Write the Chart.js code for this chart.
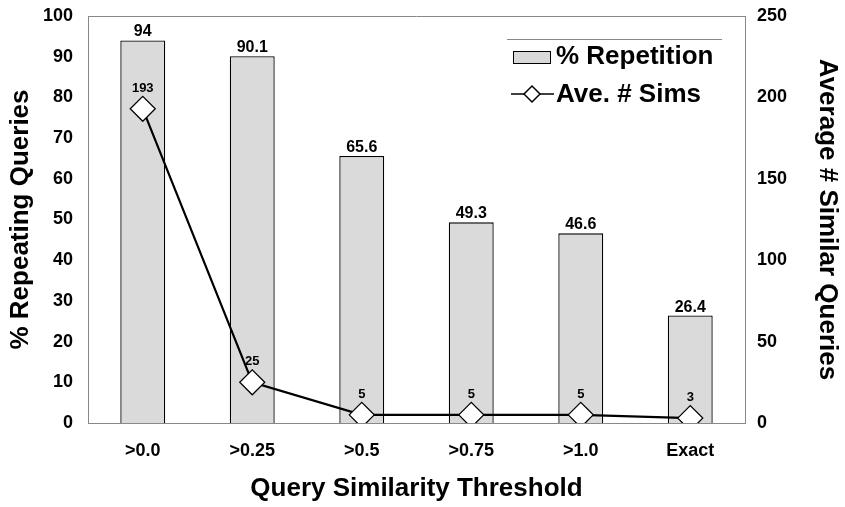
<!DOCTYPE html>
<html><head><meta charset="utf-8">
<script src="https://cdn.jsdelivr.net/npm/chart.js@4/dist/chart.umd.min.js"></script>
<style>html,body{margin:0;padding:0;background:#fff}#wrap{width:845px;height:507px}</style>
</head><body><div id="wrap"><canvas id="c" width="845" height="507"></canvas></div>
<script>
const categories = [">0.0", ">0.25", ">0.5", ">0.75", ">1.0", "Exact"];
const repetition = [94, 90.1, 65.6, 49.3, 46.6, 26.4];
const aveSims = [193, 25, 5, 5, 5, 3];
const leftTicks = [0, 10, 20, 30, 40, 50, 60, 70, 80, 90, 100];
const rightTicks = [0, 50, 100, 150, 200, 250];

const F = "'Liberation Sans', Arial, sans-serif";

const labelPlugin = {
  id: 'labels',
  afterDatasetsDraw(chart) {
    const ctx = chart.ctx;
    ctx.save();
    ctx.fillStyle = '#000';
    ctx.textAlign = 'center';
    ctx.textBaseline = 'alphabetic';
    ctx.font = "bold 16px " + F;
    chart.getDatasetMeta(1).data.forEach((el, i) => {
      ctx.fillText(String(repetition[i]), el.x, el.y - 4);
    });
    ctx.font = "bold 13px " + F;
    chart.getDatasetMeta(0).data.forEach((el, i) => {
      ctx.fillText(String(aveSims[i]), el.x, el.y - 17);
    });
    // legend
    const a = chart.chartArea;
    ctx.strokeStyle = '#888';
    ctx.lineWidth = 1;
    ctx.beginPath(); ctx.moveTo(507, 39.5); ctx.lineTo(722, 39.5); ctx.stroke();
    ctx.fillStyle = '#d9d9d9';
    ctx.fillRect(513, 51, 37, 12);
    ctx.strokeStyle = '#000';
    ctx.strokeRect(513.5, 51.5, 37, 12);
    ctx.fillStyle = '#000';
    ctx.textAlign = 'left';
    ctx.textBaseline = 'middle';
    ctx.font = "bold 26px " + F;
    ctx.fillText(chart.data.datasets[1].label, 556, 57);
    ctx.fillText(chart.data.datasets[0].label, 556, 95);
    ctx.lineWidth = 1.5;
    ctx.beginPath(); ctx.moveTo(511, 94); ctx.lineTo(554, 94); ctx.stroke();
    ctx.fillStyle = '#fff';
    ctx.beginPath(); ctx.moveTo(532, 86); ctx.lineTo(540, 94); ctx.lineTo(532, 102); ctx.lineTo(524, 94); ctx.closePath();
    ctx.fill(); ctx.stroke();
    // top border
    ctx.strokeStyle = '#888'; ctx.lineWidth = 1;
    ctx.beginPath(); ctx.moveTo(a.left, a.top + 0.5); ctx.lineTo(a.right, a.top + 0.5); ctx.stroke();
    ctx.restore();
  }
};

new Chart(document.getElementById('c'), {
  data: {
    labels: categories,
    datasets: [
      {
        type: 'line', label: 'Ave. # Sims', data: aveSims, yAxisID: 'y2',
        borderColor: '#000', borderWidth: 2.2, tension: 0,
        pointStyle: 'rectRot', pointRadius: 12.5, pointBackgroundColor: '#fff',
        pointBorderColor: '#000', pointBorderWidth: 1.3, order: 0
      },
      {
        type: 'bar', label: '% Repetition', data: repetition, yAxisID: 'y',
        backgroundColor: '#dadada', borderColor: '#000', borderWidth: 1.3,
        barPercentage: 0.41, categoryPercentage: 1, order: 1
      }
    ]
  },
  options: {
    responsive: false, animation: false,
    layout: { padding: { top: 16, left: 0, right: 0, bottom: 0 } },
    plugins: { legend: { display: false }, tooltip: { enabled: false } },
    scales: {
      x: {
        offset: true,
        grid: { display: false, drawTicks: false },
        border: { color: '#888' },
        ticks: { color: '#000', font: { family: F, size: 18, weight: 'bold' }, padding: 17 },
        title: { display: true, text: 'Query Similarity Threshold', color: '#000',
                 font: { family: F, size: 26, weight: 'bold' }, padding: { top: 0, bottom: 3 } },
        afterFit(s) { s.height = 84; s.paddingLeft = 0; s.paddingRight = 0; }
      },
      y: {
        position: 'left', min: 0, max: 100,
        afterBuildTicks(s) { s.ticks = leftTicks.map(v => ({ value: v })); },
        grid: { display: false, drawTicks: false },
        border: { color: '#888' },
        ticks: { color: '#000', font: { family: F, size: 18, weight: 'bold' }, padding: 15 },
        title: { display: true, text: '% Repeating Queries', color: '#000',
                 font: { family: F, size: 26, weight: 'bold' }, padding: { bottom: 0, top: 5 } },
        afterFit(s) { s.width = 88; s.paddingTop = 0; s.paddingBottom = 0; }
      },
      y2: {
        position: 'right', min: 0, max: 250,
        afterBuildTicks(s) { s.ticks = rightTicks.map(v => ({ value: v })); },
        grid: { display: false, drawTicks: false },
        border: { color: '#888' },
        ticks: { color: '#000', font: { family: F, size: 18, weight: 'bold' }, padding: 12 },
        title: { display: true, text: 'Average # Similar Queries', color: '#000',
                 font: { family: F, size: 26, weight: 'bold' }, padding: { top: 2, bottom: 0 } },
        afterFit(s) { s.width = 100; s.paddingTop = 0; s.paddingBottom = 0; }
      }
    }
  },
  plugins: [labelPlugin]
});
</script>
</body></html>
